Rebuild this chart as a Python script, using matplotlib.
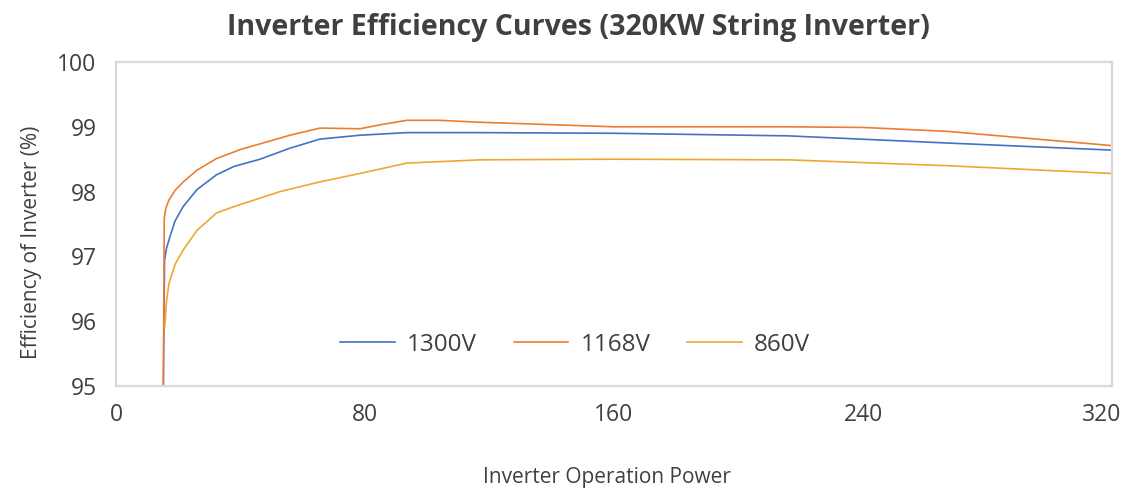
import matplotlib
matplotlib.use("Agg")
import matplotlib.pyplot as plt
import matplotlib.transforms as mtransforms

plt.rcParams['font.family'] = ['Open Sans', 'DejaVu Sans']

title = "Inverter Efficiency Curves (320KW String Inverter)"
x_label = "Inverter Operation Power"
y_label = "Efficiency of Inverter (%)"
x_ticks = [0, 80, 160, 240, 320]
y_ticks = [95, 96, 97, 98, 99, 100]

series_names = ["1300V", "1168V", "860V"]

power_1300 = [15.2, 15.6, 16.2, 17.3, 19.0, 21.6, 26.0, 32.3, 38.0, 46.3, 55.9, 65.5, 78.4, 93.4, 117, 160, 216, 267, 320]
eff_1300 = [94.9, 96.94, 97.12, 97.30, 97.55, 97.77, 98.03, 98.26, 98.39, 98.50, 98.67, 98.81, 98.87, 98.91, 98.91, 98.90, 98.86, 98.75, 98.64]

power_1168 = [15.2, 15.5, 16.0, 17.0, 19.0, 21.6, 26.0, 32.3, 40.0, 55.9, 65.5, 78.4, 84.8, 93.4, 104, 117, 160, 216, 240, 267, 320]
eff_1168 = [94.9, 97.59, 97.74, 97.87, 98.02, 98.15, 98.33, 98.51, 98.65, 98.87, 98.98, 98.97, 99.03, 99.10, 99.10, 99.07, 99.00, 99.00, 98.99, 98.93, 98.71]

power_860 = [15.7, 16.2, 17.0, 19.0, 21.6, 26.0, 32.3, 38.0, 46.3, 52.7, 65.5, 78.4, 93.4, 117, 160, 216, 267, 320]
eff_860 = [95.92, 96.30, 96.58, 96.88, 97.10, 97.40, 97.67, 97.77, 97.90, 98.00, 98.15, 98.28, 98.44, 98.49, 98.50, 98.49, 98.40, 98.28]

colors = ["#4472C4", "#ED7D31", "#EDA832"]

fig = plt.figure(figsize=(11.26, 4.93), dpi=100)
ax = fig.add_axes([116/1126, 1-386/493, (1112-116)/1126, (386-62)/493])

for xs, ys, c, n in zip([power_1300, power_1168, power_860],
                        [eff_1300, eff_1168, eff_860], colors, series_names):
    ax.plot(xs, ys, color=c, lw=1.2, label=n, solid_joinstyle='round')

ax.set_xlim(0, 320)
ax.set_ylim(95, 100)
ax.set_xticks(x_ticks)
ax.set_yticks(y_ticks)
ax.tick_params(length=0, labelsize=16.5, labelcolor="#404040")
ax.tick_params(axis='y', pad=14)
ax.tick_params(axis='x', pad=12)
for s in ax.spines.values():
    s.set_color("#D9D9D9")
    s.set_linewidth(1.6)

# shift the last x tick label left so it stays inside the figure
last = ax.get_xticklabels()[-1]
last.set_transform(last.get_transform() +
                   mtransforms.ScaledTranslation(-10/100, 0, fig.dpi_scale_trans))

fig.text(578/1126, 1-28/493, title, ha='center', va='center', fontsize=20.5,
         fontweight='bold', color="#404040")
fig.text(607/1126, 1-477/493, x_label, ha='center', va='center', fontsize=15,
         color="#404040")
fig.text(32/1126, 1-242/493, y_label, ha='center', va='center', fontsize=15,
         color="#404040", rotation=90)

ax.legend(loc='center', bbox_to_anchor=((575-116)/996, (386-345)/324), ncol=3,
          frameon=False, fontsize=17.5, handlelength=2.25, handletextpad=0.5,
          columnspacing=1.5, labelcolor="#404040")

fig.savefig("out.png", dpi=100)
